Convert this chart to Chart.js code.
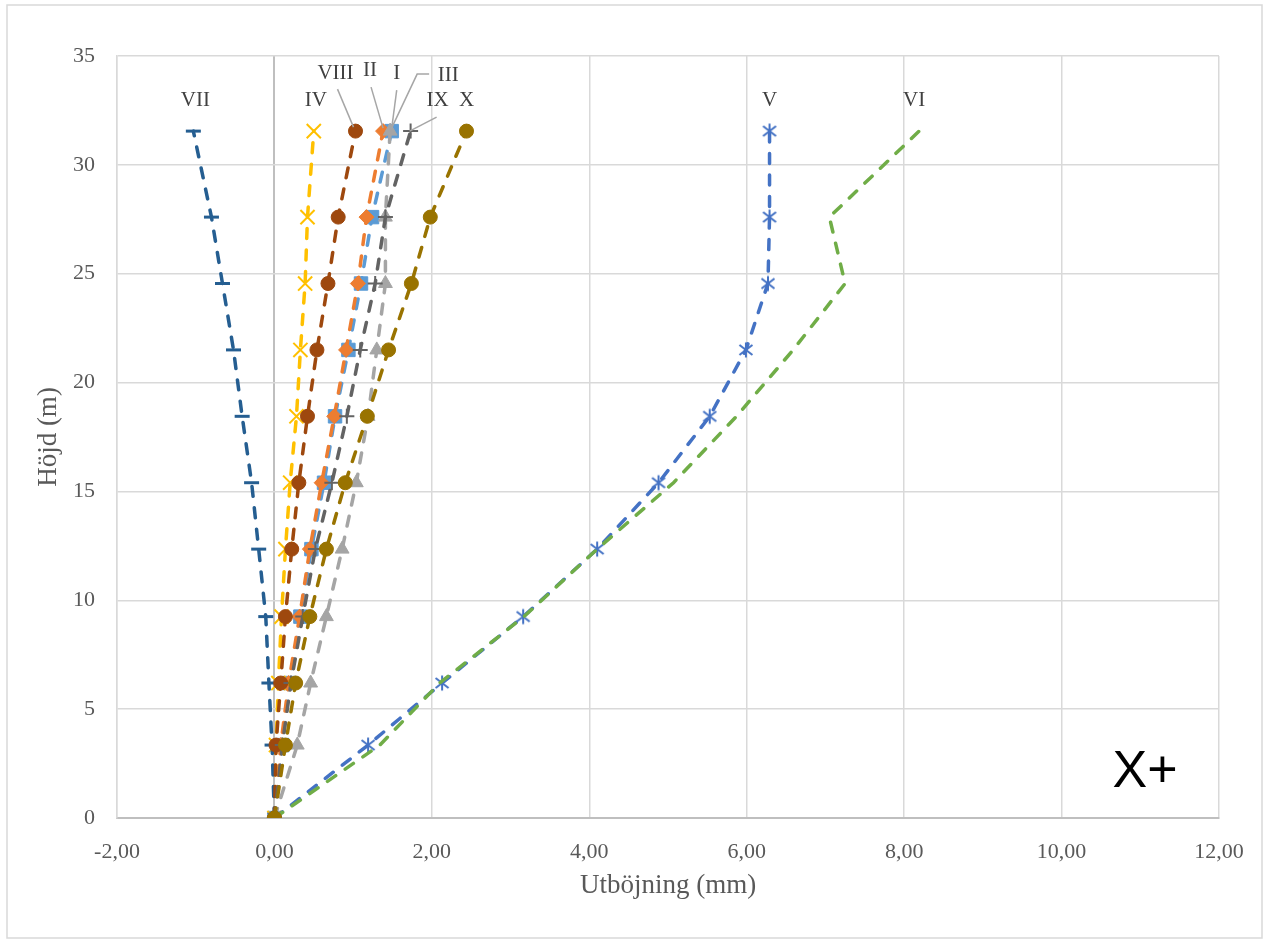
<!DOCTYPE html>
<html>
<head>
<meta charset="utf-8">
<script src="https://cdn.jsdelivr.net/npm/chart.js@4/dist/chart.umd.min.js"></script>
<style>
  html, body { margin: 0; padding: 0; background: #fff; }
  #wrap { width: 1266px; height: 942px; position: relative; }
  canvas { display: block; }
</style>
</head>
<body>
<div id="wrap"><canvas id="c" width="1266" height="942"></canvas></div>
<script>
// Mätnivåer (m) – gemensamma för alla serier
const heights = [0, 3.35, 6.2, 9.25, 12.35, 15.4, 18.45, 21.5, 24.55, 27.6, 31.55];

// Utböjning (mm) per serie
const serI    = [0, 0.10, 0.19, 0.33, 0.47, 0.63, 0.77, 0.94, 1.10, 1.24, 1.49];
const serII   = [0, 0.08, 0.18, 0.32, 0.45, 0.60, 0.76, 0.91, 1.06, 1.17, 1.38];
const serIII  = [0, 0.29, 0.46, 0.66, 0.86, 1.04, 1.19, 1.30, 1.41, 1.41, 1.47];
const serIV   = [0, 0.02, 0.05, 0.09, 0.14, 0.20, 0.28, 0.33, 0.39, 0.42, 0.50];
const serV    = [0, 1.19, 2.13, 3.16, 4.10, 4.88, 5.53, 5.99, 6.27, 6.29, 6.29];
const serVI   = [0, 1.34, 2.10, 3.17, 4.10, 5.07, 5.87, 6.59, 7.25, 7.05, 8.19];
const serVII  = [0, -0.03, -0.07, -0.11, -0.20, -0.29, -0.41, -0.52, -0.66, -0.80, -1.03];
const serVIII = [0, 0.02, 0.08, 0.14, 0.22, 0.31, 0.42, 0.54, 0.68, 0.81, 1.03];
const serIX   = [0, 0.10, 0.21, 0.36, 0.52, 0.73, 0.92, 1.09, 1.28, 1.41, 1.73];
const serX    = [0, 0.14, 0.27, 0.45, 0.66, 0.90, 1.18, 1.45, 1.74, 1.98, 2.44];

const seriesNames = ['I', 'II', 'III', 'IV', 'V', 'VI', 'VII', 'VIII', 'IX', 'X'];

// Axelindelning
const xTickValues = [-2, 0, 2, 4, 6, 8, 10, 12];
const yTickValues = [0, 5, 10, 15, 20, 25, 30, 35];

const pts = vals => vals.map((v, i) => ({ x: v, y: heights[i] }));

// Asterisk-markör (lodrätt streck + kryss)
function makeAsterisk(color) {
  const c = document.createElement('canvas');
  c.width = 18; c.height = 18;
  const g = c.getContext('2d');
  g.strokeStyle = color; g.lineWidth = 2; g.lineCap = 'butt';
  g.beginPath();
  g.moveTo(9, 1.5); g.lineTo(9, 16.5);
  g.moveTo(2.5, 4); g.lineTo(15.5, 14);
  g.moveTo(15.5, 4); g.lineTo(2.5, 14);
  g.stroke();
  return c;
}

const DASH = [10, 11.5];

function ds(label, vals, color, style, radius, extra) {
  return Object.assign({
    label,
    data: pts(vals),
    showLine: true,
    borderColor: color,
    backgroundColor: color,
    borderWidth: 3.5,
    borderDash: DASH,
    borderCapStyle: 'round',
    pointStyle: style,
    pointRadius: radius,
    pointHoverRadius: radius,
    pointBackgroundColor: color,
    pointBorderColor: color,
    pointBorderWidth: 1
  }, extra || {});
}

// Första datasetet ritas överst
const datasets = [
  ds('X',    serX,    '#997300', 'circle',   7),
  ds('IX',   serIX,   '#636363', 'cross',    7.5, { pointBorderWidth: 2 }),
  ds('VIII', serVIII, '#9E480E', 'circle',   7),
  ds('VII',  serVII,  '#255E91', 'line',     7.5, { pointBorderWidth: 3 }),
  ds('VI',   serVI,   '#70AD47', 'circle',   0),
  ds('V',    serV,    '#4472C4', makeAsterisk('#4472C4'), 9),
  ds('IV',   serIV,   '#FFC000', 'crossRot', 10,  { pointBorderWidth: 2 }),
  ds('III',  serIII,  '#A5A5A5', 'triangle', 8),
  ds('II',   serII,   '#ED7D31', 'rectRot',  7.5),
  ds('I',    serI,    '#5B9BD5', 'rect',     9.5)
];

// Serienamn vid översta punkten, med eventuella hänvisningslinjer (px-förskjutning)
const nameTags = [
  { name: 'VII',  dx: 2,   dy: -31 },
  { name: 'IV',   dx: 2,   dy: -31 },
  { name: 'VIII', dx: -20, dy: -58, leader: [[-18, -42], [-2, -4]] },
  { name: 'II',   dx: -13, dy: -61, leader: [[-12, -44], [0, -3]] },
  { name: 'I',    dx: 5,   dy: -58, leader: [[5, -41], [0, -3]] },
  { name: 'III',  dx: 58,  dy: -56, leader: [[39, -57], [27, -57], [1, -2]] },
  { name: 'IX',   dx: 27,  dy: -31, leader: [[26, -14], [-1, 0]] },
  { name: 'X',    dx: 0,   dy: -31 },
  { name: 'V',    dx: 0,   dy: -31 },
  { name: 'VI',   dx: -5,  dy: -31 }
];

const fmt = v => v.toFixed(2).replace('.', ',');

const framePlugin = {
  id: 'frame',
  beforeDraw(chart) {
    const g = chart.ctx;
    g.save();
    g.fillStyle = '#ffffff';
    g.fillRect(0, 0, chart.width, chart.height);
    g.strokeStyle = '#d9d9d9';
    g.lineWidth = 1.5;
    g.strokeRect(7, 5, 1255, 933);
    g.restore();
  }
};

const tagPlugin = {
  id: 'tags',
  afterDatasetsDraw(chart) {
    const g = chart.ctx;
    g.save();
    nameTags.forEach(t => {
      const idx = chart.data.datasets.findIndex(d => d.label === t.name);
      const meta = chart.getDatasetMeta(idx);
      const el = meta.data[meta.data.length - 1];
      const px = el.x, py = el.y;
      if (t.leader) {
        g.strokeStyle = '#a6a6a6';
        g.lineWidth = 1.5;
        g.setLineDash([]);
        g.beginPath();
        t.leader.forEach((p, i) => {
          if (i === 0) g.moveTo(px + p[0], py + p[1]);
          else g.lineTo(px + p[0], py + p[1]);
        });
        g.stroke();
      }
      g.fillStyle = '#404040';
      g.font = '21px "Liberation Serif", "Times New Roman", serif';
      g.textAlign = 'center';
      g.textBaseline = 'middle';
      g.fillText(t.name, px + t.dx, py + t.dy);
    });
    // Lastfallsbeteckning
    g.fillStyle = '#000000';
    g.font = '52px "Liberation Sans", Arial, sans-serif';
    g.textAlign = 'center';
    g.textBaseline = 'middle';
    g.fillText('X+', chart.chartArea.right - 74, chart.chartArea.bottom - 45);
    g.restore();
  }
};

new Chart(document.getElementById('c'), {
  type: 'scatter',
  data: { datasets },
  plugins: [framePlugin, tagPlugin],
  options: {
    responsive: false,
    animation: false,
    events: [],
    layout: { padding: { left: 0, right: 47, top: 56, bottom: 0 }, autoPadding: false },
    plugins: { legend: { display: false }, tooltip: { enabled: false } },
    scales: {
      x: {
        type: 'linear',
        min: xTickValues[0],
        max: xTickValues[xTickValues.length - 1],
        afterBuildTicks: s => { s.ticks = xTickValues.map(v => ({ value: v })); },
        ticks: {
          callback: v => fmt(v),
          font: { family: '"Liberation Serif", serif', size: 22 },
          color: '#595959',
          padding: 21,
          maxRotation: 0,
          autoSkip: false
        },
        grid: {
          color: c => (c.tick && c.tick.value === 0 ? '#bfbfbf' : '#d9d9d9'),
          lineWidth: c => (c.tick && c.tick.value === 0 ? 2 : 1.5),
          drawTicks: false
        },
        border: { color: '#bfbfbf', width: 2 },
        title: {
          display: true,
          text: 'Utböjning (mm)',
          font: { family: '"Liberation Serif", serif', size: 27 },
          color: '#595959',
          padding: { top: 0, bottom: 40 }
        },
        afterFit: s => { s.height = 124; }
      },
      y: {
        type: 'linear',
        min: yTickValues[0],
        max: yTickValues[yTickValues.length - 1],
        afterBuildTicks: s => { s.ticks = yTickValues.map(v => ({ value: v })); },
        ticks: {
          font: { family: '"Liberation Serif", serif', size: 22 },
          color: '#595959',
          padding: 22
        },
        grid: { color: '#d9d9d9', lineWidth: 1.5, drawTicks: false },
        border: { color: '#d9d9d9', width: 1.5 },
        title: {
          display: true,
          text: 'Höjd (m)',
          font: { family: '"Liberation Serif", serif', size: 27 },
          color: '#595959',
          padding: { top: 33, bottom: 0 }
        },
        afterFit: s => { s.width = 117; }
      }
    }
  }
});
</script>
</body>
</html>
